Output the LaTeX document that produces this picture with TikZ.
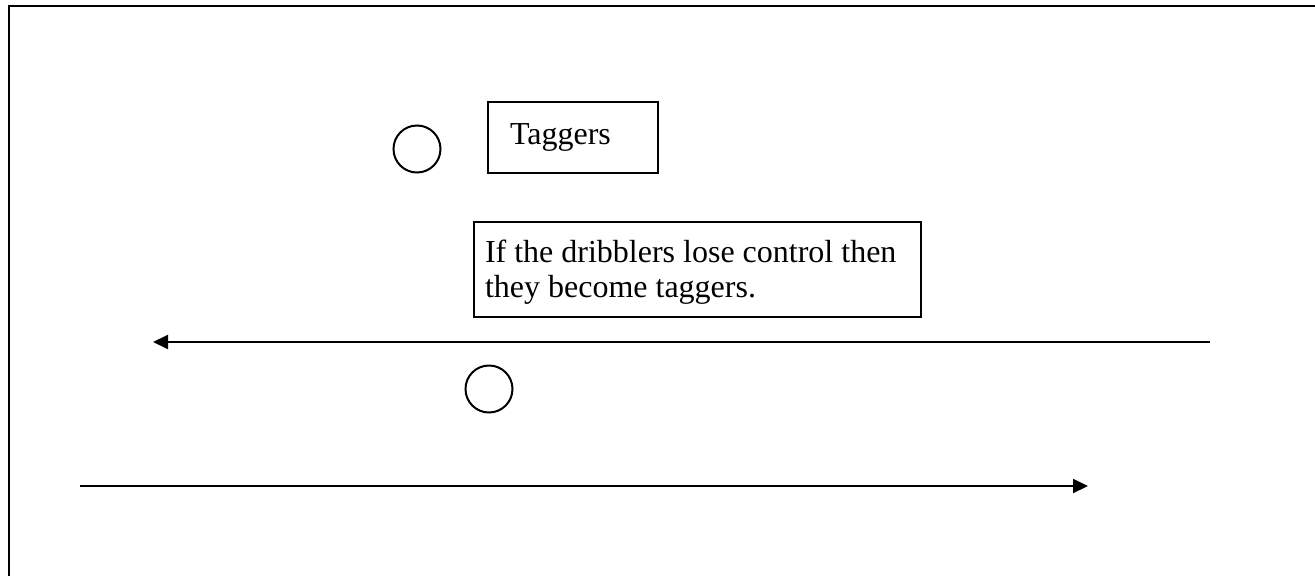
\documentclass[tikz,border=0pt]{standalone}
\usepackage{fontspec}
\setmainfont{Liberation Serif}
\usetikzlibrary{arrows.meta}
\tikzset{
  ink/.style={line width=2pt, draw=black},
  player/.style={ink, circle, minimum size=47pt, inner sep=0pt},
  notebox/.style={ink, rectangle, align=flush left, inner ysep=0pt,
    font=\fontsize{32pt}{35pt}\selectfont},
  run/.style={ink, -{Triangle[length=15pt,width=14pt]}}
}
\begin{document}
\begin{tikzpicture}[x=1pt,y=-1pt]
  \useasboundingbox (0,0) rectangle (1315,576);
  % field border (top and left edges)
  \draw[ink] (1315,6) -- (9,6) -- (9,576);
  % players
  \node[player] (tagger) at (417,149) {};
  \node[player] (dribbler) at (489,389) {};
  % labels
  \node[notebox, text width=126pt, inner xsep=22pt, minimum height=71pt]
    (taggers) at (573,137.5) {Taggers};
  \node[notebox, text width=425pt, inner xsep=11pt, minimum height=95pt,
    text height=22pt, text depth=37pt]
    (rule) at (697.5,269.5) {If the dribblers lose control then\\they become taggers.};
  % running lanes
  \coordinate (upStart) at (1210,342);
  \coordinate (upEnd) at (153,342);
  \coordinate (downStart) at (80,486);
  \coordinate (downEnd) at (1088,486);
  \draw[run] (upStart) -- (upEnd);
  \draw[run] (downStart) -- (downEnd);
\end{tikzpicture}
\end{document}
